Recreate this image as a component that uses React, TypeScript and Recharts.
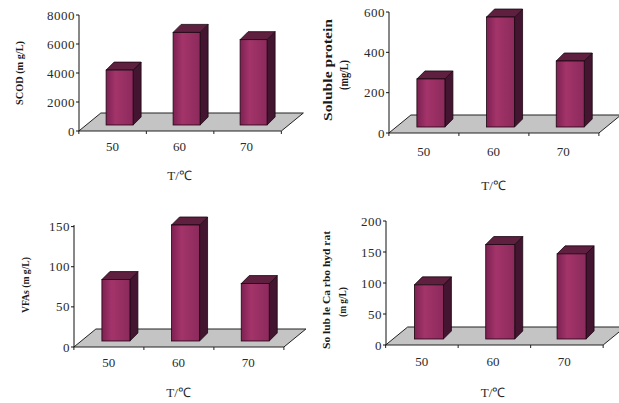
import { Bar, BarChart, XAxis, YAxis } from "recharts";

// Temperature groups (°C)
const TEMPS = ["50", "60", "70"];

const SCOD = [4200, 6800, 6300];
const PROTEIN = [268, 575, 357];
const VFAS = [84, 152, 79];
const CARBO = [97, 162, 147];

const SCOD_TICKS = [0, 2000, 4000, 6000, 8000];
const PROTEIN_TICKS = [0, 200, 400, 600];
const VFAS_TICKS = [0, 50, 100, 150];
const CARBO_TICKS = [0, 50, 100, 150, 200];

// 3D look
const FLOOR_DX = 22;
const FLOOR_DY = 18;
const SHIFT_X = 7;
const SHIFT_Y = 6;
const BOX_DX = 8;
const BOX_DY = 8;
const GAP = 0.3;

const SERIF = "'Liberation Serif', 'Times New Roman', serif";

type YLabelLine = { text: string; x: number; y: number; size: number; bold?: boolean; len?: number };

type PanelProps = {
  id: string;
  values: number[];
  ticks: number[];
  left: number;
  top: number;
  width: number;
  height: number;
  margin: { top: number; right: number; bottom: number; left: number };
  catDy: number;
  titleDy: number;
  yLabel: YLabelLine[];
};

function makeShape(id: string, n: number) {
  return (p: any) => {
    const { x, y, width: w, height: h, index } = p;
    const base = y + h;
    const band = w / (1 - 2 * GAP);
    const plotLeft = x - GAP * band;
    const plotRight = plotLeft + n * band;
    const fx = x + SHIFT_X;
    const fb = base - SHIFT_Y;
    const gid = `front-${id}-${index}`;
    const line = "#1a0610";
    return (
      <g>
        <defs>
          <linearGradient id={gid} x1="0" y1="0" x2="1" y2="0">
            <stop offset="0%" stopColor="#7d2152" />
            <stop offset="35%" stopColor="#a3346a" />
            <stop offset="100%" stopColor="#8c2a5c" />
          </linearGradient>
        </defs>
        {index === 0 && (
          <g>
            <polygon
              points={`${plotLeft},${base} ${plotRight},${base} ${plotRight + FLOOR_DX},${base - FLOOR_DY} ${plotLeft + FLOOR_DX},${base - FLOOR_DY}`}
              fill="#c4c4c4"
              stroke="#222"
              strokeWidth={1}
            />
            {Array.from({ length: n + 1 }, (_, i) => (
              <line
                key={i}
                x1={plotLeft + i * band}
                x2={plotLeft + i * band}
                y1={base}
                y2={base + 3}
                stroke="#222"
              />
            ))}
          </g>
        )}
        <polygon
          points={`${fx + w},${y} ${fx + w + BOX_DX},${y - BOX_DY} ${fx + w + BOX_DX},${fb - BOX_DY} ${fx + w},${fb}`}
          fill="#431530"
          stroke={line}
          strokeWidth={0.8}
        />
        <polygon
          points={`${fx},${y} ${fx + w},${y} ${fx + w + BOX_DX},${y - BOX_DY} ${fx + BOX_DX},${y - BOX_DY}`}
          fill="#5f1f3f"
          stroke={line}
          strokeWidth={0.8}
        />
        <rect x={fx} y={y} width={w} height={fb - y} fill={`url(#${gid})`} stroke={line} strokeWidth={0.8} />
      </g>
    );
  };
}

function Panel(props: PanelProps) {
  const data = TEMPS.map((t, i) => ({ t, v: props.values[i] }));
  const max = props.ticks[props.ticks.length - 1];
  const tickStyle = { fill: "#2a2a2a", fontSize: 13, fontFamily: SERIF };
  return (
    <div style={{ position: "absolute", left: props.left, top: props.top }}>
      <BarChart
        width={props.width}
        height={props.height}
        data={data}
        margin={props.margin}
        barCategoryGap={`${GAP * 100}%`}
      >
        <XAxis
          dataKey="t"
          axisLine={false}
          tickLine={false}
          tickSize={0}
          tickMargin={props.catDy}
          height={50}
          interval={0}
          tick={tickStyle}
          label={(lp: any) => {
            const vb = lp.viewBox;
            return (
              <text
                x={vb.x + vb.width / 2}
                y={vb.y + props.titleDy}
                textAnchor="middle"
                dominantBaseline="central"
                fontFamily={SERIF}
                fontSize={13}
                fill="#2a2a2a"
              >
                T/℃
              </text>
            );
          }}
        />
        <YAxis
          type="number"
          domain={[0, max]}
          ticks={props.ticks}
          interval={0}
          width={40}
          tickSize={3}
          tickMargin={1}
          axisLine={{ stroke: "#111" }}
          tickLine={{ stroke: "#111" }}
          tick={{ ...tickStyle, letterSpacing: 0.5 }}
          label={() => (
            <g>
              {props.yLabel.map((l, i) => (
                <text
                  key={i}
                  x={l.x}
                  y={l.y}
                  transform={`rotate(-90 ${l.x} ${l.y})`}
                  textAnchor="middle"
                  dominantBaseline="central"
                  fontFamily={SERIF}
                  fontSize={l.size}
                  fontWeight={l.bold ? "bold" : "normal"}
                  fill="#1a1a1a"
                  textLength={l.len}
                  lengthAdjust={l.len ? "spacingAndGlyphs" : undefined}
                >
                  {l.text}
                </text>
              ))}
            </g>
          )}
        />
        <Bar dataKey="v" shape={makeShape(props.id, TEMPS.length)} isAnimationActive={false} />
      </BarChart>
    </div>
  );
}

export default function App() {
  return (
    <div style={{ position: "absolute", left: 0, top: 0, width: 619, height: 403, background: "#fff", overflow: "hidden" }}>
      <Panel
        id="scod"
        values={SCOD}
        ticks={SCOD_TICKS}
        left={0}
        top={0}
        width={310}
        height={200}
        margin={{ top: 15, right: 30, bottom: 19, left: 39 }}
        catDy={11}
        titleDy={44}
        yLabel={[{ text: "SCOD (m g/L)", x: 19, y: 73, size: 11, bold: true, len: 64 }]}
      />
      <Panel
        id="prot"
        values={PROTEIN}
        ticks={PROTEIN_TICKS}
        left={310}
        top={0}
        width={309}
        height={200}
        margin={{ top: 12, right: 21, bottom: 17, left: 39 }}
        catDy={14}
        titleDy={52}
        yLabel={[
          { text: "Soluble protein", x: 17, y: 70, size: 13, bold: true, len: 102 },
          { text: "(mg/L)", x: 33, y: 75, size: 13, bold: true, len: 30 },
        ]}
      />
      <Panel
        id="vfa"
        values={VFAS}
        ticks={VFAS_TICKS}
        left={0}
        top={200}
        width={310}
        height={203}
        margin={{ top: 25, right: 27, bottom: 6, left: 34 }}
        catDy={11}
        titleDy={45}
        yLabel={[{ text: "VFAs (m g/L)", x: 25, y: 85, size: 11, bold: true, len: 56 }]}
      />
      <Panel
        id="carb"
        values={CARBO}
        ticks={CARBO_TICKS}
        left={310}
        top={200}
        width={309}
        height={203}
        margin={{ top: 21, right: 19, bottom: 8, left: 36 }}
        catDy={12}
        titleDy={47}
        yLabel={[
          { text: "So lub le Ca rbo hyd rat", x: 16, y: 90, size: 11, bold: true, len: 118 },
          { text: "(m g/L)", x: 32, y: 102, size: 11, bold: true, len: 30 },
        ]}
      />
    </div>
  );
}
